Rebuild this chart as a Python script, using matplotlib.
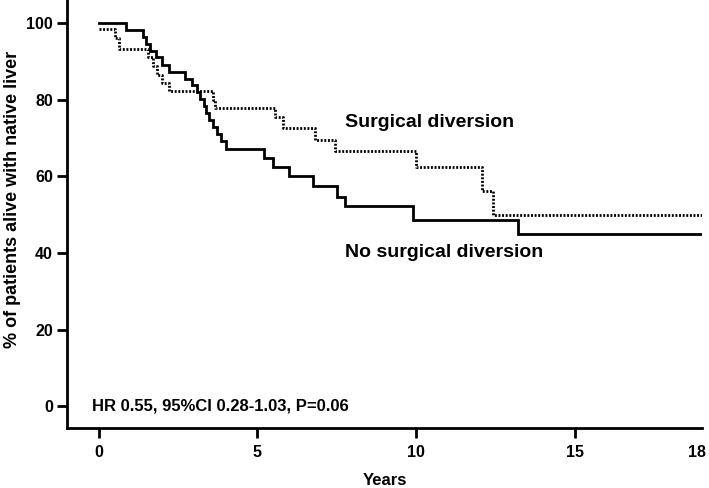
import matplotlib
matplotlib.use('Agg')
import matplotlib.pyplot as plt

plt.rcParams.update({
    'font.family': ['Liberation Sans', 'DejaVu Sans'],
    'font.weight': 'bold',
    'axes.linewidth': 2.0,
})

# Kaplan-Meier step data (years, % alive with native liver)
no_div_t = [0, 0.87, 1.39, 1.5, 1.62, 1.8, 2.0, 2.2, 2.71, 2.95, 3.08, 3.2, 3.3,
            3.38, 3.46, 3.6, 3.72, 3.85, 4.0, 5.2, 5.49, 6.0, 6.75, 7.49, 7.75,
            9.91, 13.2, 19.0]
no_div_s = [100, 98.2, 96.4, 94.6, 92.8, 91.0, 89.1, 87.3, 85.5, 83.7, 81.9, 80.1,
            78.3, 76.5, 74.7, 72.9, 71.1, 69.3, 67.0, 64.7, 62.5, 60.0, 57.4, 54.6,
            52.2, 48.6, 44.9, 44.9]

div_t = [0, 0.5, 0.65, 1.55, 1.7, 1.85, 2.0, 2.2, 3.6, 3.66, 5.55, 5.8, 6.8, 7.44,
         10.0, 12.06, 12.43, 19.0]
div_s = [98.4, 96.0, 93.3, 91.0, 88.7, 86.4, 84.4, 82.3, 80.0, 77.7, 75.5, 72.5,
         69.5, 66.7, 62.3, 56.1, 49.9, 49.9]

# last label "18" sits at the axis end
x_ticks = [0, 5, 10, 15, 18.85]
x_labels = ['0', '5', '10', '15', '18']
y_ticks = [0, 20, 40, 60, 80, 100]

fig = plt.figure(figsize=(7.09, 4.88), dpi=100)
ax = fig.add_axes([0.0945, 0.123, 0.8955, 0.877])

ax.step(no_div_t, no_div_s, where='post', color='black', linewidth=2.0,
        solid_joinstyle='miter')
ax.step(div_t, div_s, where='post', color='black', linewidth=2.0,
        linestyle=(0, (0.7, 0.6)))

ax.set_xlim(-1.0, 19.0)
ax.set_ylim(-5.7, 106)
ax.set_xticks(x_ticks)
ax.set_xticklabels(x_labels)
ax.set_yticks(y_ticks)
ax.tick_params(axis='both', length=7, width=2, labelsize=11.5, pad=3)
ax.tick_params(axis='x', pad=5)
ax.xaxis.get_major_ticks()[-1].tick1line.set_visible(False)
for lab in ax.get_xticklabels() + ax.get_yticklabels():
    lab.set_fontweight('bold')

ax.spines['top'].set_visible(False)
ax.spines['right'].set_visible(False)

ax.set_xlabel('Years', fontsize=12, fontweight='bold', va='center')
ax.xaxis.set_label_coords(0.5, -0.122)
ax.set_ylabel('% of patients alive with native liver', fontsize=13,
              fontweight='bold', va='center')
ax.yaxis.set_label_coords(-0.0866, 0.535)

ax.text(7.75, 74.0, 'Surgical diversion', fontsize=14, fontweight='bold',
        ha='left', va='center')
ax.text(7.75, 40.0, 'No surgical diversion', fontsize=14, fontweight='bold',
        ha='left', va='center')
ax.text(-0.2, 0.0, 'HR 0.55, 95%CI 0.28-1.03, P=0.06', fontsize=12,
        fontweight='bold', ha='left', va='center')

fig.savefig('out.png', dpi=100)
